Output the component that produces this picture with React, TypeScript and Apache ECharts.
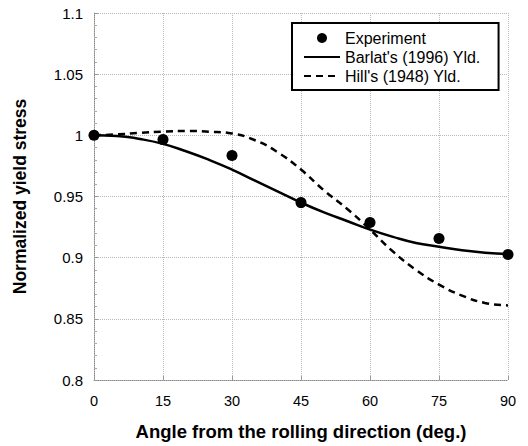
import React, { useEffect, useRef } from "react";
import * as echarts from "echarts";

const angles = [0, 15, 30, 45, 60, 75, 90];
const experiment = [1.0, 0.9965, 0.9835, 0.945, 0.9287, 0.9156, 0.9025];

const curveAngles = [0, 5, 10, 15, 20, 25, 30, 35, 40, 45, 50, 55, 60, 65, 70, 75, 80, 85, 90];
const barlat = [1.0, 0.9995, 0.997, 0.993, 0.987, 0.98, 0.972, 0.963, 0.954, 0.945, 0.937, 0.93, 0.923, 0.917, 0.912, 0.909, 0.906, 0.904, 0.903];
const hill = [1.0, 1.0008, 1.002, 1.003, 1.0035, 1.003, 1.0015, 0.996, 0.986, 0.972, 0.955, 0.94, 0.923, 0.905, 0.89, 0.878, 0.869, 0.863, 0.861];

const xTicks = [0, 15, 30, 45, 60, 75, 90];

const FONT = "Liberation Sans";

export default function App() {
  const ref = useRef<HTMLDivElement>(null);
  useEffect(() => {
    if (!ref.current) return;
    const chart = echarts.init(ref.current, null, { renderer: "svg" });
    const gridLine = { show: true, lineStyle: { color: "#b8b8b8", type: "dotted", width: 1 } };
    const hiddenSymbol = { color: "transparent", borderWidth: 0, opacity: 0 };
    chart.setOption({
      animation: false,
      backgroundColor: "#fff",
      grid: { left: 94, right: 20, top: 13, bottom: 66 },
      legend: {
        orient: "vertical",
        left: 292,
        top: 23,
        padding: [7, 18, 6, 11],
        itemGap: 3,
        itemWidth: 36,
        itemHeight: 10,
        backgroundColor: "#fff",
        borderColor: "#000",
        borderWidth: 2,
        borderRadius: 0,
        textStyle: { fontFamily: FONT, fontSize: 16, color: "#000" },
        data: [
          { name: "Experiment", icon: "circle" },
          { name: "Barlat's (1996) Yld.", itemStyle: hiddenSymbol },
          { name: "Hill's (1948) Yld.", itemStyle: hiddenSymbol },
        ],
      },
      xAxis: {
        type: "value",
        min: 0,
        max: 90,
        interval: 15,
        name: "Angle from the rolling direction (deg.)",
        nameLocation: "middle",
        nameGap: 42,
        nameTextStyle: { fontFamily: FONT, fontSize: 18.5, fontWeight: "bold", color: "#000" },
        axisLine: { show: true, lineStyle: { color: "#888", type: "dotted" } },
        axisTick: { show: true, inside: true, length: 4, lineStyle: { color: "#999" } },
        axisLabel: { fontFamily: FONT, fontSize: 14.5, color: "#000", margin: 13, formatter: (v: number) => (xTicks.includes(v) ? String(v) : "") },
        splitLine: gridLine,
      },
      yAxis: {
        type: "value",
        min: 0.8,
        max: 1.1,
        interval: 0.05,
        name: "Normalized yield stress",
        nameLocation: "middle",
        nameGap: 65,
        nameTextStyle: { fontFamily: FONT, fontSize: 17.5, fontWeight: "bold", color: "#000" },
        axisLine: { show: true, lineStyle: { color: "#888", type: "dotted" } },
        axisTick: { show: true, inside: true, length: 4, lineStyle: { color: "#999" } },
        minorTick: { show: true, splitNumber: 5, length: 3, lineStyle: { color: "#aaa" } },
        axisLabel: { fontFamily: FONT, fontSize: 15, color: "#000", margin: 11 },
        splitLine: gridLine,
      },
      series: [
        {
          name: "Experiment",
          type: "scatter",
          symbol: "circle",
          symbolSize: 11,
          itemStyle: { color: "#000", opacity: 1 },
          data: angles.map((a, i) => [a, experiment[i]]),
          z: 5,
        },
        {
          name: "Barlat's (1996) Yld.",
          type: "line",
          smooth: true,
          showSymbol: false,
          symbol: "none",
          lineStyle: { color: "#000", width: 2.5 },
          itemStyle: { color: "#000" },
          data: curveAngles.map((a, i) => [a, barlat[i]]),
        },
        {
          name: "Hill's (1948) Yld.",
          type: "line",
          smooth: true,
          showSymbol: false,
          symbol: "none",
          lineStyle: { color: "#000", width: 2.5, type: [7, 5] },
          itemStyle: { color: "#000" },
          data: curveAngles.map((a, i) => [a, hill[i]]),
        },
      ],
    });
    return () => chart.dispose();
  }, []);
  return <div ref={ref} style={{ width: 528, height: 446, position: "absolute", left: 0, top: 0 }} />;
}
